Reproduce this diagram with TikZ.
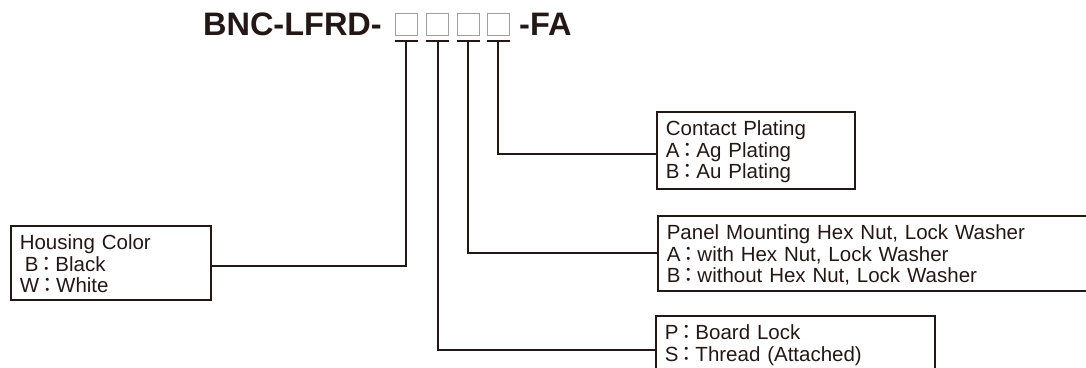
\documentclass[tikz,border=0pt]{standalone}
\usepackage{fontspec}
\setmainfont{Liberation Sans}
\newfontfamily\jpfont{Noto Sans CJK JP}
\newcommand{\fwc}{\makebox[17pt]{\jpfont ：}}
\newcommand{\topstrut}{\rule{0pt}{24pt}}
\newcommand{\botstrut}[1][8pt]{\rule[-#1]{0pt}{#1}}
\definecolor{ink}{RGB}{35,24,21}
\tikzset{
  infobox/.style={draw=ink, line width=1.6pt, anchor=north west, align=left,
    inner xsep=9pt, inner ysep=0pt, text=ink,
    font=\fontsize{20.5}{21.5}\selectfont},
  link/.style={draw=ink, line width=2pt},
  sqbox/.style={draw=gray!75, line width=1pt, minimum size=22pt, inner sep=0pt},
  title/.style={inner sep=0pt, text=ink, font=\fontsize{32.5}{36}\selectfont\bfseries},
}
\begin{document}
\begin{tikzpicture}[x=1pt, y=-1pt]
  \useasboundingbox (0,0) rectangle (1086,367);
  \clip (0,0) rectangle (1086,367);
  % part number
  \node[title, anchor=base east] (pre) at (382,35) {BNC-LFRD-};
  \node[title, anchor=base west] (post) at (519,35) {-FA};
  \foreach \i/\x in {1/406,2/437.5,3/468,4/498} {
    \node[sqbox] (sq\i) at (\x,24) {};
    \coordinate (t\i) at (\x,41);
    \draw[link] ([xshift=-11.5pt]t\i) -- ([xshift=11.5pt]t\i);
  }
  % option boxes
  \node[infobox, text width=180pt] (contact) at (656,111)
    {\topstrut Contact Plating\\A\fwc Ag Plating\\B\fwc Au Plating\botstrut[10pt]};
  \node[infobox, text width=417pt] (panel) at (657,215)
    {\topstrut Panel Mounting Hex Nut, Lock Washer\\A\fwc with Hex Nut, Lock Washer\\B\fwc without Hex Nut, Lock Washer\botstrut};
  \node[infobox, text width=182pt] (housing) at (10,225)
    {\topstrut Housing Color\\\hspace{5pt}B\fwc Black\\W\fwc White\botstrut[7pt]};
  \node[infobox, text width=261pt] (lock) at (655,315)
    {\topstrut P\fwc Board Lock\\S\fwc Thread (Attached)\botstrut[14pt]};
  % leaders
  \draw[link] (t1) |- ([yshift=-3pt]housing.east);
  \draw[link] (t2) |- ([yshift=-4pt]lock.west);
  \draw[link] (t3) |- (panel.west);
  \draw[link] (t4) |- ([yshift=-4pt]contact.west);
\end{tikzpicture}
\end{document}
